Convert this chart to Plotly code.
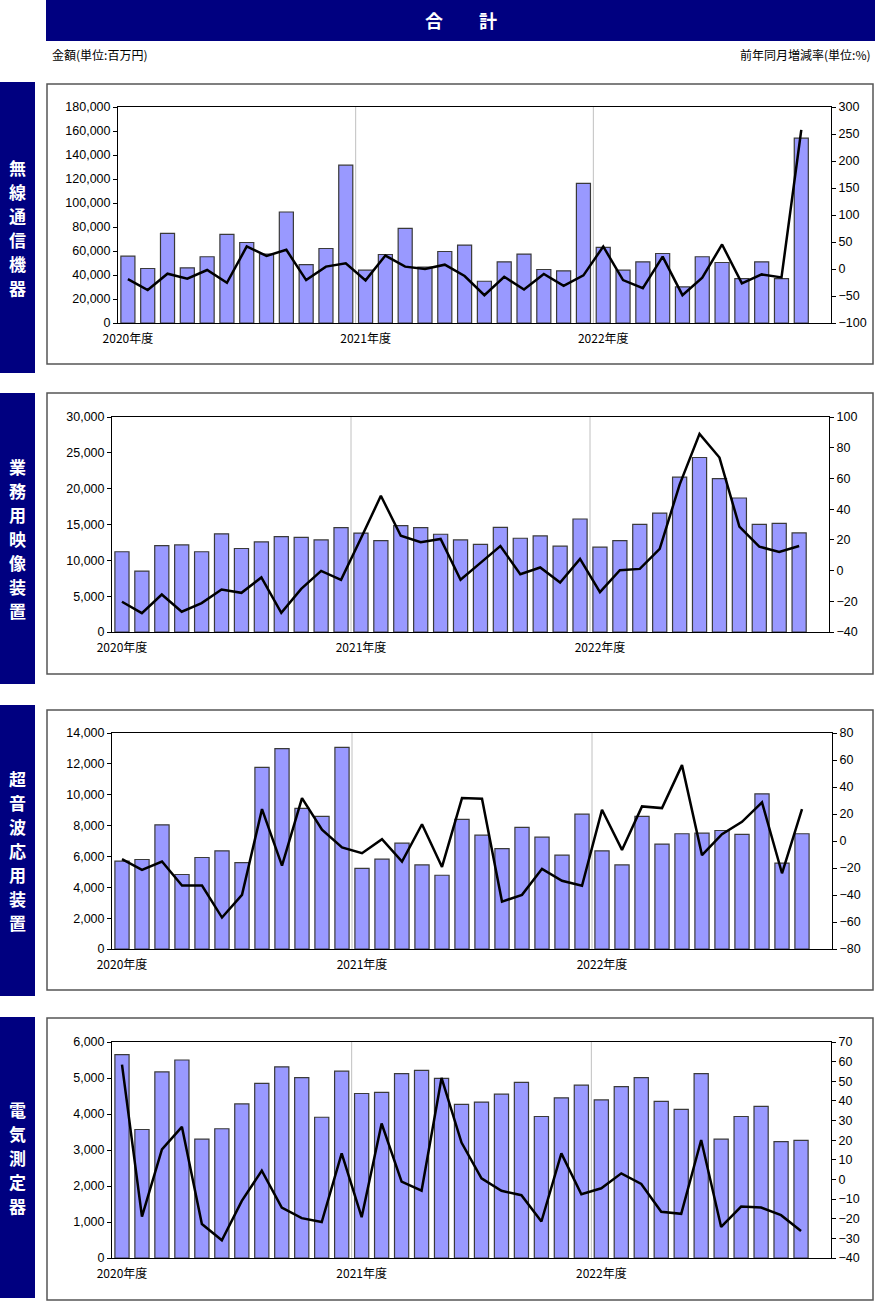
import plotly.graph_objects as go

W, H = 876, 1302

months = list(range(35))
year_ticks = [0, 12, 24]
year_labels = ["2020年度", "2021年度", "2022年度"]

# 無線通信機器
wireless_amt = [55700, 45400, 74700, 46000, 55200, 73800, 67100, 57500, 92500, 48700, 62100, 131500,
                44000, 57100, 78800, 46500, 59600, 64900, 34800, 51000, 57400, 44600, 43500, 116400,
                63000, 44000, 51000, 57900, 30100, 55200, 50400, 37000, 51000, 37000, 154000]
wireless_pct = [-18.7, -39, -8.7, -18, -1.9, -25.5, 41.7, 24.3, 35.5, -20.5, 4.4, 10.6,
                -21, 24.9, 4.4, 0, 8, -13, -48.5, -14.3, -38, -9.3, -31, -11.8,
                41.7, -20.5, -35.5, 23, -48.5, -16, 45.4, -26.7, -10, -15.6, 257.5]

# 業務用映像装置
video_amt = [11200, 8500, 12060, 12150, 11200, 13700, 11650, 12570, 13300, 13200, 12850, 14560,
             13800, 12750, 14840, 14560, 13640, 12850, 12240, 14600, 13080, 13400, 11970, 15770,
             11830, 12760, 15030, 16600, 21600, 24350, 21400, 18700, 15030, 15170, 13820]
video_pct = [-20.3, -27.7, -15.6, -26.8, -21.2, -12.3, -14.5, -4.5, -27.5, -11.9, -0.2, -6,
             21, 48.7, 22.7, 18.4, 20.6, -6, 5, 16, -2.4, 2, -7.8, 7.6,
             -14, 0.2, 1.1, 14.1, 56, 89, 73.6, 28.6, 15.6, 12.1, 16]

# 超音波応用装置
ultra_amt = [5690, 5800, 8050, 4830, 5930, 6360, 5600, 11770, 12990, 9110, 8590, 13070,
             5220, 5820, 6860, 5450, 4780, 8400, 7380, 6510, 7880, 7250, 6080, 8740,
             6360, 5450, 8590, 6800, 7470, 7510, 7680, 7430, 10060, 5560, 7470]
ultra_pct = [-13.5, -21.4, -15.2, -33, -33, -56.7, -39.9, 23.6, -18.2, 31.8, 8.3, -4.8,
             -9, 1.4, -15.2, 12.4, -19.2, 31.8, 31.3, -44.9, -39.9, -20.6, -29.5, -33.2,
             23.1, -6.6, 25.6, 24.4, 56.2, -10.5, 5.1, 14.2, 28.6, -23.9, 23.6]

# 電気測定器
elec_amt = [5650, 3570, 5170, 5500, 3300, 3590, 4280, 4850, 5310, 5010, 3910, 5190,
            4570, 4600, 5120, 5210, 4990, 4270, 4330, 4550, 4880, 3930, 4450, 4800,
            4390, 4760, 5010, 4350, 4130, 5120, 3300, 3930, 4210, 3230, 3270]
elec_pct = [58.5, -18.9, 15.3, 26.8, -22.7, -31, -10.9, 4.5, -14.3, -19.7, -21.7, 13.3,
            -19.2, 28.5, -1.1, -5.7, 51.7, 18.8, 0.6, -5.8, -8, -21.4, 13.3, -7.5,
            -4.5, 3.1, -2.3, -16.5, -17.5, 20.1, -24.2, -13.8, -14.3, -18.2, -26.3]

panel_names = ["無線通信機器", "業務用映像装置", "超音波応用装置", "電気測定器"]
amounts = [wireless_amt, video_amt, ultra_amt, elec_amt]
pcts = [wireless_pct, video_pct, ultra_pct, elec_pct]
left_ranges = [(0, 180000, 20000), (0, 30000, 5000), (0, 14000, 2000), (0, 6000, 1000)]
right_ranges = [(-100, 300, 50), (-40, 100, 20), (-80, 80, 20), (-40, 70, 10)]

# layout geometry (pixels)
plot_boxes = [(118, 831, 107, 323), (112, 829, 417, 632), (112, 832, 733, 949), (112, 831, 1042, 1258)]
frames = [(47, 873, 84, 364), (47, 873, 393, 674), (47, 873, 710, 990), (47, 873, 1018, 1300)]
side_bars = [(82, 373), (393, 684), (705, 996), (1017, 1298)]

def px(x):
    return x / W

def py(y):
    return 1 - y / H

NUMFONT = "Liberation Sans, Arial, Noto Sans CJK JP"
CJK = "Noto Sans CJK JP, Liberation Sans"

fig = go.Figure()
shapes = []
annotations = []

# title bar
shapes.append(dict(type="rect", xref="paper", yref="paper", x0=px(46), x1=px(875), y0=py(41), y1=py(0),
                   fillcolor="#000080", line=dict(width=0), layer="below"))
annotations.append(dict(text="<b>合　　計</b>", x=px(460.5), y=py(20), xref="paper", yref="paper",
                        showarrow=False, font=dict(family=CJK, size=18, color="white"),
                        xanchor="center", yanchor="middle"))
annotations.append(dict(text="金額(単位:百万円)", x=px(50), y=py(54), xref="paper", yref="paper",
                        showarrow=False, font=dict(family=CJK, size=12, color="black"),
                        xanchor="left", yanchor="middle"))
annotations.append(dict(text="前年同月増減率(単位:%)", x=px(873), y=py(54), xref="paper", yref="paper",
                        showarrow=False, font=dict(family=CJK, size=12, color="black"),
                        xanchor="right", yanchor="middle"))

layout_axes = {}
for i in range(4):
    n = i + 1
    xa = "x" if n == 1 else f"x{n}"
    yl_id = 2 * i + 1
    yr_id = 2 * i + 2
    yl = "y" if yl_id == 1 else f"y{yl_id}"
    yr = f"y{yr_id}"
    x0, x1, y0, y1 = plot_boxes[i]

    fig.add_trace(go.Bar(x=months, y=amounts[i], xaxis=xa, yaxis=yl,
                         marker=dict(color="#9999FF", line=dict(color="#3a3a3a", width=1.2)),
                         showlegend=False, hoverinfo="x+y"))
    fig.add_trace(go.Scatter(x=months, y=pcts[i], xaxis=xa, yaxis=yr, mode="lines",
                             line=dict(color="black", width=2.5), showlegend=False))

    xkey = "xaxis" if n == 1 else f"xaxis{n}"
    ylkey = "yaxis" if yl_id == 1 else f"yaxis{yl_id}"
    yrkey = f"yaxis{yr_id}"
    layout_axes[xkey] = dict(domain=[px(x0), px(x1)], anchor=yl, range=[-0.5, 35.5],
                             tickvals=year_ticks, ticktext=year_labels, ticks="",
                             showgrid=False, zeroline=False, showline=True, mirror=True,
                             linecolor="black", linewidth=1, automargin=False,
                             ticklabelstandoff=5,
                             tickfont=dict(family=CJK, size=12, color="black"))
    lo, hi, dt = left_ranges[i]
    layout_axes[ylkey] = dict(domain=[py(y1), py(y0)], anchor=xa, range=[lo, hi], dtick=dt,
                              tickformat=",d", ticks="outside", ticklen=4, tickcolor="black",
                              showgrid=False, zeroline=False, showline=True, mirror=True,
                              linecolor="black", linewidth=1, automargin=False,
                              tickfont=dict(family=NUMFONT, size=12.5, color="black"))
    lo, hi, dt = right_ranges[i]
    layout_axes[yrkey] = dict(overlaying=yl, side="right", anchor=xa, range=[lo, hi], dtick=dt,
                              ticks="outside", ticklen=4, tickcolor="black",
                              showgrid=False, zeroline=False, showline=True,
                              linecolor="black", linewidth=1, automargin=False,
                              tickfont=dict(family=NUMFONT, size=12.5, color="black"))

    # year boundary grid lines
    for b in (11.5, 23.5):
        shapes.append(dict(type="line", xref=xa, yref=f"{yl} domain", x0=b, x1=b, y0=0, y1=1,
                           line=dict(color="#c0c0c0", width=1), layer="below"))

    # frame
    fx0, fx1, fy0, fy1 = frames[i]
    shapes.append(dict(type="rect", xref="paper", yref="paper", x0=px(fx0), x1=px(fx1),
                       y0=py(fy1), y1=py(fy0), line=dict(color="#555555", width=1.5),
                       fillcolor="rgba(0,0,0,0)", layer="below"))

    # side label bar
    sy0, sy1 = side_bars[i]
    shapes.append(dict(type="rect", xref="paper", yref="paper", x0=0, x1=px(35),
                       y0=py(sy1), y1=py(sy0), fillcolor="#000080", line=dict(width=0), layer="below"))
    name = panel_names[i]
    mid = (sy0 + sy1) / 2
    step = 24
    start = mid - step * (len(name) - 1) / 2
    for k, ch in enumerate(name):
        annotations.append(dict(text=f"<b>{ch}</b>", x=px(17.5), y=py(start + k * step),
                                xref="paper", yref="paper", showarrow=False,
                                font=dict(family=CJK, size=17, color="white"),
                                xanchor="center", yanchor="middle"))

fig.update_layout(width=W, height=H, margin=dict(l=0, r=0, t=0, b=0, autoexpand=False),
                  paper_bgcolor="white", plot_bgcolor="white",
                  bargap=0.29, shapes=shapes, annotations=annotations, **layout_axes)

fig.write_html("out.html", config={"displayModeBar": False},
               post_script="document.body.style.margin='0';document.body.style.padding='0';document.body.style.overflow='hidden';")
